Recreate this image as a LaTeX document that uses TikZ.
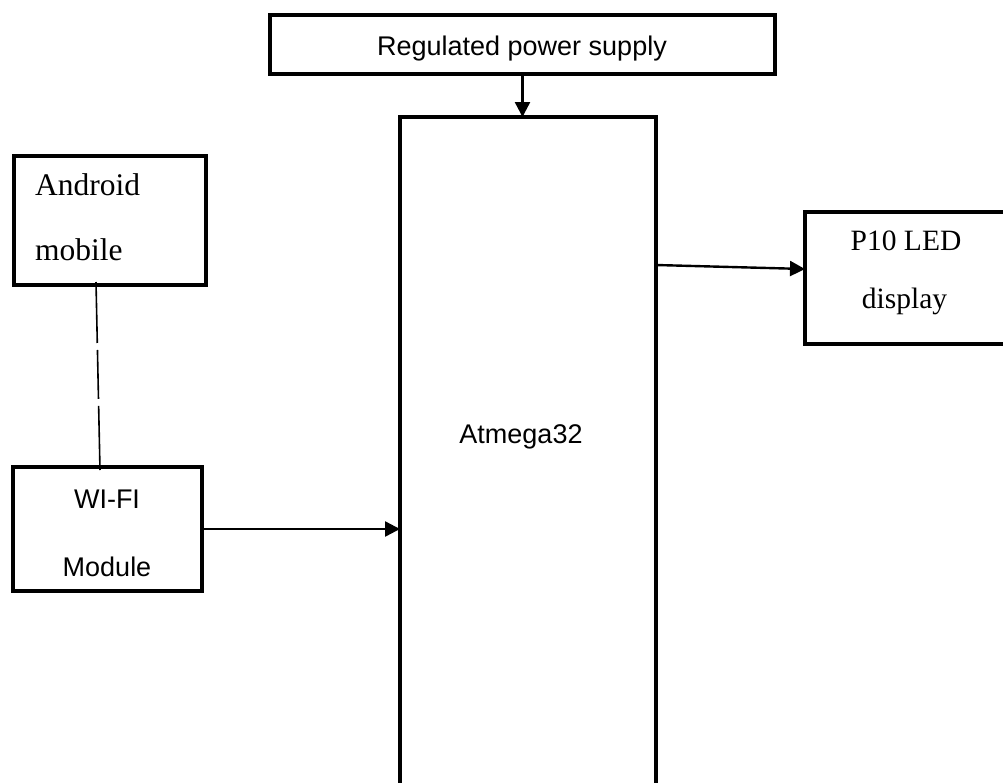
\documentclass[tikz,border=0pt]{standalone}
\usepackage{fontspec}
\setmainfont{Liberation Serif}
\setsansfont{Liberation Sans}
\usetikzlibrary{arrows.meta,calc}
\begin{document}
\begin{tikzpicture}[x=1pt,y=-1pt,
  blk/.style={draw, line width=4.8pt, inner sep=0pt, outer sep=0pt},
  arr/.style={line width=2.4pt, -{Triangle[length=15pt,width=15pt]}},
  sanstxt/.style={font=\sffamily\fontsize{27}{31}\selectfont, inner sep=0pt},
  seriftxt/.style={font=\rmfamily\fontsize{31.5}{35}\selectfont, inner sep=0pt},
  seriftxtb/.style={font=\rmfamily\fontsize{29.5}{34}\selectfont, inner sep=0pt},
]
\useasboundingbox (0,0) rectangle (1003,782);
% boxes
\node[blk, minimum width=505pt, minimum height=59pt] (ps) at (522.5,44.5) {};
\node[blk, minimum width=192pt, minimum height=129pt] (and) at (110,220.5) {};
\node[blk, minimum width=189pt, minimum height=124pt] (wifi) at (107.5,529) {};
\node[blk, minimum width=210pt, minimum height=132pt] (p10) at (910,278) {};
\node[inner sep=0pt, outer sep=0pt, minimum width=256pt, minimum height=667pt] (atm) at (528,450.5) {};
\draw[line width=4.5pt] (atm.south west) -- (atm.north west) -- (atm.north east) -- (atm.south east);
% texts
\node[sanstxt, anchor=base] (pstxt) at (522,55) {Regulated power supply};
\node[sanstxt, anchor=base] (atmtxt) at (521,443) {Atmega32};
\node[sanstxt, anchor=base] (wifitxt1) at (107,508) {WI-FI};
\node[sanstxt, anchor=base] (wifitxt2) at (107,576) {Module};
\node[seriftxt, anchor=base west] (andtxt1) at (35,195) {Android};
\node[seriftxt, anchor=base west] (andtxt2) at (35,260) {mobile};
\node[seriftxtb, anchor=base] (p10txt1) at (906,250) {P10 LED};
\node[seriftxtb, anchor=base] (p10txt2) at (904.5,308) {display};
% connectors
\draw[arr] (ps.south) -- (ps.south |- atm.north);
\draw[arr] (wifi.east) -- (wifi.east -| atm.west);
\draw[arr] ($(atm.north east)+(0,148)$) -- ($(p10.west)+(0,-9)$);
\draw[line width=1.6pt, dash pattern=on 61pt off 7pt on 49pt off 7pt on 80pt]
  ($(and.south)+(-14,-3)$) -- ($(wifi.north)+(-7.5,3)$);
\end{tikzpicture}
\end{document}
